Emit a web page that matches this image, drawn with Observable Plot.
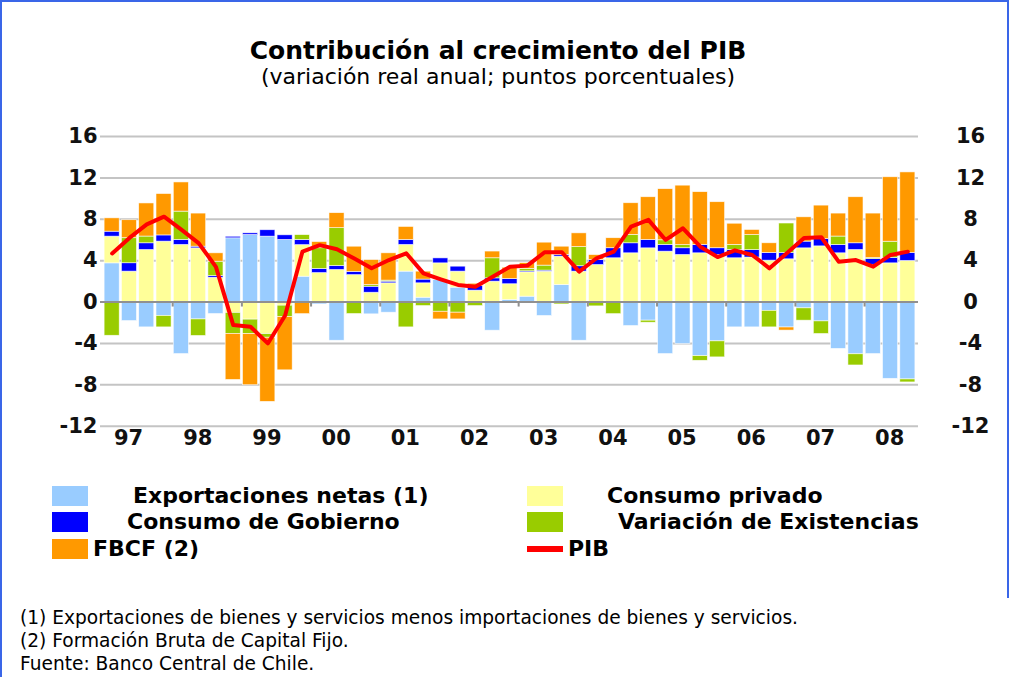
<!DOCTYPE html>
<html>
<head>
<meta charset="utf-8">
<script src="https://cdn.jsdelivr.net/npm/d3@7"></script>
<script src="https://cdn.jsdelivr.net/npm/@observablehq/plot@0.6"></script>
<style>
  html, body { margin: 0; padding: 0; background: #fff; }
  #wrap { position: relative; width: 1011px; height: 677px; overflow: hidden; font-family: "DejaVu Sans", sans-serif; color: #000; }
  .bl { position: absolute; z-index: 5; left: 0; top: 0; width: 1009px; height: 677px; border-top: 2px solid #3a66e8; border-left: 2px solid #3a66e8; box-sizing: border-box; pointer-events: none; }
  .br { position: absolute; z-index: 5; left: 1007px; top: 0; width: 2px; height: 598px; background: #3a66e8; }
  .title { position: absolute; left: 0; width: 996px; top: 38px; text-align: center; font-size: 25px; line-height: 1; font-weight: bold; }
  .subtitle { position: absolute; left: 0; width: 996px; top: 66px; text-align: center; font-size: 22px; line-height: 1; }
  #chart { position: absolute; z-index: 1; left: 0; top: 110px; }
  .sw { position: absolute; width: 36px; height: 20px; }
  .lt { position: absolute; font-size: 22px; line-height: 1; font-weight: bold; white-space: nowrap; }
  .notes { position: absolute; left: 20px; top: 606px; font-size: 18.6px; line-height: 23px; white-space: nowrap; }
</style>
</head>
<body>
<div id="wrap">
  <div class="title">Contribución al crecimiento del PIB</div>
  <div class="subtitle">(variación real anual; puntos porcentuales)</div>
  <div id="chart"></div>
  <div id="legend"></div>
  <div class="notes">(1) Exportaciones de bienes y servicios menos importaciones de bienes y servicios.<br>(2) Formación Bruta de Capital Fijo.<br>Fuente: Banco Central de Chile.</div>
  <div class="bl"></div>
  <div class="br"></div>
</div>
<script>
// ---- Data ----
const quarters = [
  "97-I","97-II","97-III","97-IV",
  "98-I","98-II","98-III","98-IV",
  "99-I","99-II","99-III","99-IV",
  "00-I","00-II","00-III","00-IV",
  "01-I","01-II","01-III","01-IV",
  "02-I","02-II","02-III","02-IV",
  "03-I","03-II","03-III","03-IV",
  "04-I","04-II","04-III","04-IV",
  "05-I","05-II","05-III","05-IV",
  "06-I","06-II","06-III","06-IV",
  "07-I","07-II","07-III","07-IV",
  "08-I","08-II","08-III"
];
const yearLabels = ["97","98","99","00","01","02","03","04","05","06","07","08"];
const yTicks = [-12, -8, -4, 0, 4, 8, 12, 16];

const seriesNames = ["Exportaciones netas (1)", "Consumo privado", "Consumo de Gobierno", "Variación de Existencias", "FBCF (2)"];
const seriesColors = ["#99ccff", "#ffff99", "#0000ff", "#99cc00", "#ff9900"];

const exportacionesNetas = [3.74, -1.84, -2.45, -1.35, -5.03, -1.68, -1.16, 6.16, 6.48, 6.32,
  6.0, 2.45, -0.23, -3.74, 0, -1.19, -1.03, 2.94, 0.42, 2.16,
  1.39, 0, -2.77, 0.2, 0.52, -1.35, 1.65, -3.74, 0, 0,
  -2.32, -1.8, -5.03, -4.06, -5.23, -3.8, -2.45, -2.45, -0.85, -2.46,
  -0.61, -1.87, -4.53, -5.05, -5.03, -7.42, -7.48];
const consumoPrivado = [2.58, 2.94, 5.03, 5.84, 5.52, 5.19, 2.35, -1.05, -1.7, -3.1,
  -0.35, 3.05, 2.8, 3.1, 2.6, 0.9, 1.81, 2.58, 1.39, 1.58,
  1.55, 1.1, 1.97, 1.52, 2.35, 2.94, 2.74, 2.94, 3.58, 4.23,
  4.71, 5.19, 4.87, 4.55, 4.71, 4.55, 4.23, 4.3, 4.0, 4.13,
  5.19, 5.38, 4.71, 5.03, 3.6, 3.74, 3.97];
const consumoGobierno = [0.48, 0.81, 0.65, 0.6, 0.48, 0.16, 0.16, 0.15, 0.16, 0.62,
  0.45, 0.5, 0.4, 0.39, 0.32, 0.58, 0.16, 0.48, 0.36, 0.48,
  0.48, 0.45, 0.32, 0.5, 0.1, 0.1, 0.16, 0.52, 0.48, 0.97,
  0.97, 0.81, 0.65, 0.65, 0.81, 0.65, 0.81, 0.72, 0.75, 0.62,
  0.65, 0.7, 0.81, 0.65, 0.55, 0.53, 0.78];
const variacionExistencias = [-3.26, 2.42, 0.65, -1.1, 2.74, -1.6, 1.39, -2.03, -1.4, -0.35,
  -1.1, 0.47, 2.0, 3.65, -1.16, 0.16, 0.1, -2.45, -0.39, -0.94,
  -1.03, -0.39, 1.94, 0, 0.24, 0.48, -0.23, 1.85, -0.42, -1.17,
  0.81, -0.2, 0.45, 0.3, -0.45, -1.55, 0.48, 1.45, -1.6, 2.84,
  -1.19, -1.22, 0.81, -1.08, 0.1, 1.56, -0.29];
const fbcf = [1.29, 1.74, 3.2, 4.0, 2.82, 3.2, 0.81, -4.45, -4.94, -6.2,
  -5.15, -1.17, 0.6, 1.45, 2.43, 2.42, 2.64, 1.26, 0.77, -0.74,
  -0.65, 0.22, 0.65, 1.1, 0.55, 2.22, 0.8, 1.33, 0.48, 0.97,
  3.06, 4.13, 4.94, 5.75, 5.1, 4.45, 2.05, 0.5, 0.93, -0.3,
  2.35, 3.24, 2.22, 4.45, 4.3, 6.23, 7.78];
const pib = [4.7, 6.2, 7.5, 8.25, 7.0, 5.7, 3.4, -2.23, -2.39, -4.0,
  -1.3, 4.87, 5.5, 5.1, 4.2, 3.26, 4.06, 4.71, 2.77, 2.19,
  1.65, 1.48, 2.45, 3.42, 3.52, 4.81, 4.81, 2.94, 4.23, 4.87,
  7.29, 7.94, 6.0, 7.13, 5.35, 4.35, 5.0, 4.55, 3.26, 4.71,
  6.2, 6.26, 3.9, 4.06, 3.42, 4.55, 4.87];

// ---- Build long table ----
const seriesValues = [exportacionesNetas, consumoPrivado, consumoGobierno, variacionExistencias, fbcf];
const rows = [];
quarters.forEach((q, i) => {
  seriesValues.forEach((vals, s) => rows.push({quarter: q, i, serie: seriesNames[s], value: vals[i]}));
});
const pibRows = quarters.map((q, i) => ({quarter: q, i, value: pib[i]}));
const yearBoundaries = quarters.map((q, i) => i).filter(i => i > 0 && i % 4 === 0);
const yearLabelRows = yearLabels.map((label, k) => ({label, pos: k * 4 + 1.45}));

const labelFont = {fontSize: 21, fontWeight: "bold", fill: "#111"};

const chart = Plot.plot({
  width: 1011,
  height: 350,
  marginLeft: 103,
  marginRight: 95,
  marginTop: 26,
  marginBottom: 34.3,
  style: {fontFamily: "DejaVu Sans", background: "transparent", overflow: "visible"},
  x: {domain: [0, quarters.length], axis: null},
  y: {domain: [-12, 16], axis: null},
  color: {domain: seriesNames, range: seriesColors},
  marks: [
    Plot.ruleY(yTicks.filter(d => d !== 0), {stroke: "#c4c4c4", strokeWidth: 2, insetLeft: -3, insetRight: -2}),
    Plot.rectY(rows, Plot.stackY({
      x1: "i", x2: d => d.i + 1, y: "value", fill: "serie", order: seriesNames,
      insetLeft: 1.1, insetRight: 1.1, stroke: "#ffffff", strokeWidth: 0.7, strokeOpacity: 0.8
    })),
    Plot.ruleY([0], {stroke: "#909090", strokeWidth: 2, insetLeft: -3, insetRight: -2}),
    Plot.ruleX(yearBoundaries, {x: d => d, y1: 0, y2: 0, insetBottom: -5, stroke: "#909090", strokeWidth: 2}),
    Plot.line(pibRows, {x: d => d.i + 0.5, y: "value", stroke: "#ff0000", strokeWidth: 4, strokeLinejoin: "round", strokeLinecap: "round"}),
    Plot.text(yTicks, {y: d => d, text: d => String(d), frameAnchor: "left", textAnchor: "end", dx: -6, lineAnchor: "middle", ...labelFont}),
    Plot.text(yTicks, {y: d => d, text: d => String(d), frameAnchor: "right", textAnchor: "middle", dx: 54, lineAnchor: "middle", ...labelFont}),
    Plot.text(yearLabelRows, {x: "pos", text: "label", frameAnchor: "bottom", dy: 12, lineAnchor: "middle", ...labelFont})
  ]
});
document.getElementById("chart").appendChild(chart);

// ---- Legend (HTML) ----
const legend = document.getElementById("legend");
const legendItems = [
  {name: seriesNames[0], color: seriesColors[0], sx: 52, sy: 486, tx: 133, ty: 485},
  {name: seriesNames[1], color: seriesColors[1], sx: 527, sy: 486, tx: 607, ty: 485},
  {name: seriesNames[2], color: seriesColors[2], sx: 52, sy: 512, tx: 127, ty: 511},
  {name: seriesNames[3], color: seriesColors[3], sx: 527, sy: 512, tx: 618, ty: 511},
  {name: seriesNames[4], color: seriesColors[4], sx: 52, sy: 539, tx: 93, ty: 538},
  {name: "PIB", color: "#ff0000", sx: 527, sy: 546, tx: 568, ty: 538, line: true}
];
legendItems.forEach(it => {
  const sw = document.createElement("div");
  sw.className = "sw";
  sw.style.left = it.sx + "px";
  sw.style.top = it.sy + "px";
  sw.style.background = it.color;
  if (it.line) sw.style.height = "6px";
  legend.appendChild(sw);
  const t = document.createElement("div");
  t.className = "lt";
  t.style.left = it.tx + "px";
  t.style.top = it.ty + "px";
  t.textContent = it.name;
  legend.appendChild(t);
});
</script>
</body>
</html>
